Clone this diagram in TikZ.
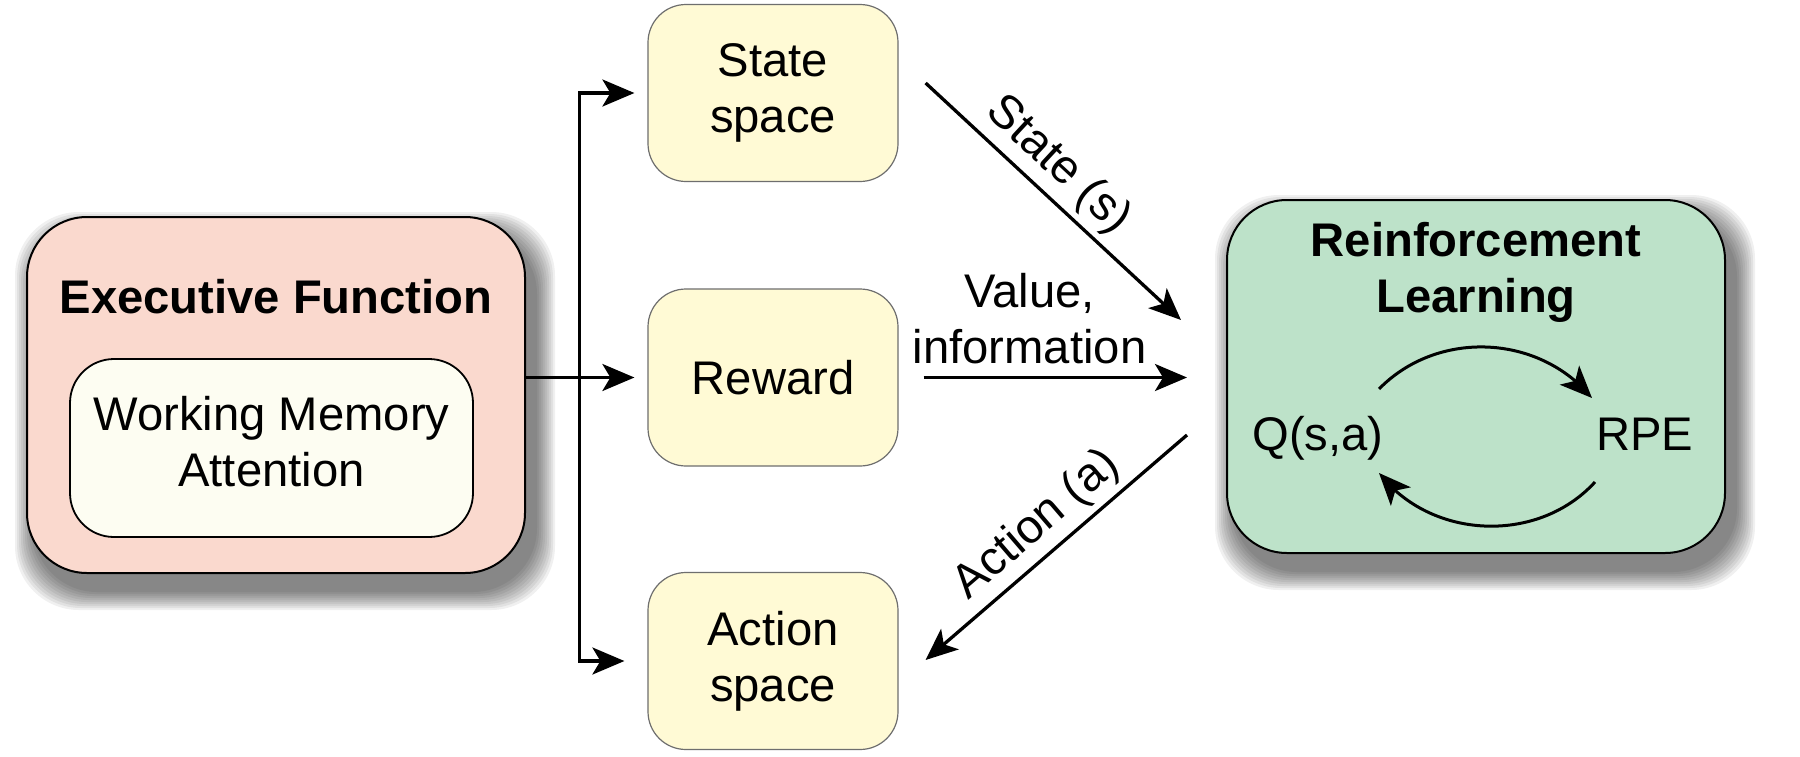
\documentclass[tikz,border=0pt]{standalone}
\usepackage{fontspec}
\setmainfont{Liberation Sans}
\usetikzlibrary{arrows.meta,backgrounds,bending}
\definecolor{efpink}{RGB}{250,217,206}
\definecolor{wmivory}{RGB}{253,253,242}
\definecolor{boxyellow}{RGB}{255,250,213}
\definecolor{rlgreen}{RGB}{189,226,201}
\definecolor{boxedge}{RGB}{110,110,110}
\begin{document}
\begin{tikzpicture}[x=0.5pt,y=0.5pt,
  font=\fontsize{23.6}{28}\selectfont,
  bigbox/.style={draw=black, line width=1pt, rounded corners=30pt, inner sep=0pt},
  smallbox/.style={draw=boxedge, line width=0.6pt, fill=boxyellow, rounded corners=19pt,
    minimum width=125pt, minimum height=88.5pt, align=center, inner sep=0pt},
  titletext/.style={font=\fontsize{23.6}{28}\selectfont\bfseries, inner sep=0pt, align=center},
  plaintext/.style={inner sep=0pt, align=center},
  arr/.style={-{Stealth[length=16pt,width=13.5pt,inset=4pt,flex]}, line width=1.65pt},
  lbl/.style={inner sep=3pt}]
\useasboundingbox (0,0) rectangle (1800,-756);

% Executive function
\node[bigbox, fill=efpink, minimum width=249pt, minimum height=178pt] (EF) at (276,-395) {};
\node[titletext, anchor=base] (EFt) at (276,-313) {Executive Function};
\node[draw=black, line width=0.9pt, fill=wmivory, rounded corners=22pt,
  minimum width=201.5pt, minimum height=89pt, inner sep=0pt] (WM) at (271.5,-448) {};
\node[plaintext, anchor=north] (WMt) at (271.5,-396) {Working Memory\\Attention};

% middle boxes
\node[smallbox] (SS) at (773,-93) {State\\space};
\node[smallbox] (Rw) at (773,-377.5) {Reward};
\node[smallbox] (AS) at (773,-661) {Action\\space};

% Reinforcement learning
\node[bigbox, fill=rlgreen, minimum width=249pt, minimum height=176.5pt] (RL) at (1476,-376.5) {};
\node[titletext, anchor=north] (RLt) at (1476,-222) {Reinforcement\\Learning};
\node[plaintext, anchor=base west] (Q) at (1252,-450) {Q(s,a)};
\node[plaintext, anchor=base west] (RPE) at (1596,-450) {RPE};

% connectors from executive function
\path (SS.west) ++(-68,0) coordinate (jt);
\path (AS.west) ++(-68,0) coordinate (jb);
\draw[arr, shorten >=6.5pt] (EF.east |- Rw.west) -- (Rw.west);
\draw[arr, shorten >=6.5pt] (jb) -- (jt) -- (SS.west);
\draw[arr, shorten >=11.5pt] (jt) -- (jb) -- (AS.west);

% connectors to / from RL
\path (SS.east) ++(27,10) coordinate (sa);
\path (RL.west) ++(-45,56.5) coordinate (sb);
\draw[arr] (sa) -- node[lbl, sloped, above, pos=0.44] (Slbl) {State (s)} (sb);

\draw[arr, shorten <=12.5pt, shorten >=19.5pt] (Rw.east) -- node[plaintext, above=6pt, pos=0.40] (Vlbl) {Value,\\information} (Rw.east -| RL.west);

\path (RL.west) ++(-39,-58.5) coordinate (aa);
\path (AS.east) ++(27,1) coordinate (ab);
\draw[arr] (aa) -- node[lbl, sloped, above, pos=0.5] (Albl) {Action (a)} (ab);

% cycle inside RL
\coordinate (c1) at (1379,-389);
\coordinate (c2) at (1592,-398);
\coordinate (c3) at (1595,-482);
\coordinate (c4) at (1379,-473);
\draw[arr, line width=1.5pt] (c1) to[bend left=48] (c2);
\draw[arr, line width=1.5pt] (c3) to[bend left=50] (c4);

% shadows and background
\begin{scope}[on background layer]
  \fill[white] (0,0) rectangle (1800,-756);
  \foreach \n in {EF,RL} {
    \foreach \e in {20,18,...,2} {
      \fill[black, opacity=0.06, rounded corners=32pt]
        ([xshift={(9-\e)*0.5pt}, yshift={(-16-\e)*0.5pt}]\n.south west) rectangle
        ([xshift={(9+\e)*0.5pt}, yshift={(-16+\e)*0.5pt}]\n.north east);
    }
  }
\end{scope}
\end{tikzpicture}
\end{document}
